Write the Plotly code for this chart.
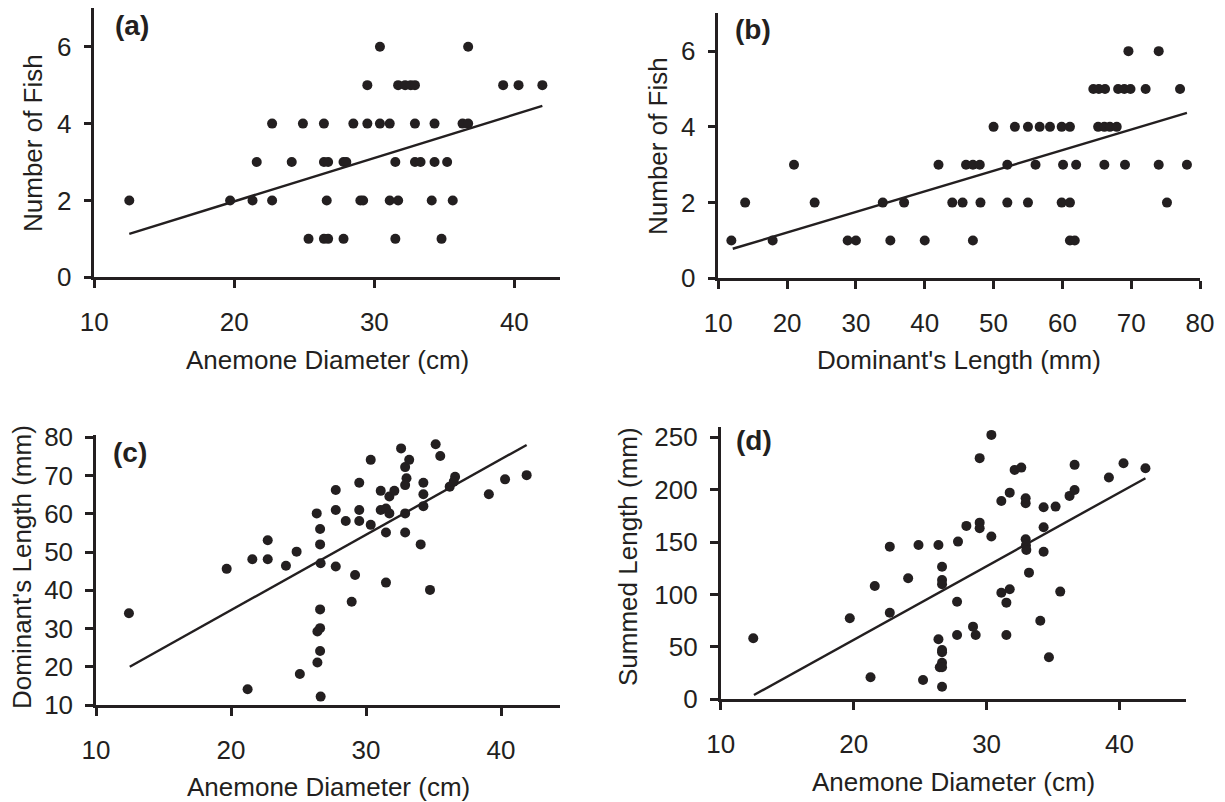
import plotly.graph_objects as go

# ---------------- data ----------------
# (a) Number of fish vs anemone diameter
a_x = [30.4, 36.7,
       29.5, 31.7, 32.2, 32.6, 32.9, 39.2, 40.3, 42.0,
       22.7, 24.9, 26.4, 28.5, 29.5, 30.4, 31.1, 32.9, 34.3, 36.3, 36.7,
       21.6, 24.1, 26.4, 26.7, 27.8, 28.0, 31.5, 32.9, 33.3, 34.3, 35.2,
       12.5, 19.7, 21.3, 22.7, 26.6, 29.0, 29.2, 31.1, 31.7, 34.1, 35.6,
       25.3, 26.4, 26.7, 27.8, 31.5, 34.8]
a_y = [6, 6,
       5, 5, 5, 5, 5, 5, 5, 5,
       4, 4, 4, 4, 4, 4, 4, 4, 4, 4, 4,
       3, 3, 3, 3, 3, 3, 3, 3, 3, 3, 3,
       2, 2, 2, 2, 2, 2, 2, 2, 2, 2, 2,
       1, 1, 1, 1, 1, 1]
a_fit_x = [12.5, 42.0]
a_fit_y = [1.13, 4.46]

# (b) Number of fish vs dominant's length
b_x = [69.6, 74.0,
       64.5, 65.3, 66.2, 68.1, 69.0, 69.9, 72.1, 77.1,
       50.0, 53.1, 55.0, 56.7, 58.2, 59.9, 61.1, 65.2, 66.1, 66.9, 67.9,
       21.0, 42.0, 46.0, 47.0, 48.0, 52.0, 56.1, 60.1, 62.0, 66.1, 69.1, 74.0, 78.1,
       13.9, 24.0, 33.9, 37.0, 44.0, 45.5, 48.1, 52.0, 55.0, 59.9, 61.1, 75.2,
       11.9, 17.9, 28.8, 30.0, 35.0, 40.0, 47.0, 61.1, 61.8]
b_y = [6, 6,
       5, 5, 5, 5, 5, 5, 5, 5,
       4, 4, 4, 4, 4, 4, 4, 4, 4, 4, 4,
       3, 3, 3, 3, 3, 3, 3, 3, 3, 3, 3, 3, 3,
       2, 2, 2, 2, 2, 2, 2, 2, 2, 2, 2, 2,
       1, 1, 1, 1, 1, 1, 1, 1, 1]
b_fit_x = [12.1, 78.1]
b_fit_y = [0.78, 4.37]

# (c) Dominant's length vs anemone diameter
c_x = [12.44, 19.68, 21.58, 22.72, 22.72, 24.07, 24.86, 21.23, 25.1,
       26.35, 26.6, 26.6, 26.64, 27.76, 27.76, 27.76, 26.6, 26.6, 26.4, 26.6, 26.4, 26.64,
       28.5, 28.94, 29.19, 29.5, 29.5, 29.5, 30.35, 30.35, 31.09, 31.09, 31.48, 31.73, 31.73,
       32.1, 31.48, 31.48, 32.6, 32.9, 33.0, 32.9, 33.2, 32.9, 32.9, 34.05, 34.25, 34.25,
       34.25, 34.74, 35.16, 35.5, 36.2, 36.6, 36.5, 39.1, 40.3, 41.9]
c_y = [34.0, 45.6, 48.1, 53.1, 48.1, 46.4, 50.1, 14.1, 18.1,
       60.1, 56.0, 52.0, 47.05, 66.2, 61.0, 46.2, 35.0, 30.1, 29.2, 24.1, 21.1, 12.2,
       58.1, 37.0, 44.0, 68.1, 61.0, 58.1, 74.1, 57.1, 66.0, 61.0, 61.4, 64.5, 60.1,
       66.0, 55.1, 42.0, 77.1, 72.2, 69.3, 67.5, 74.1, 60.1, 55.1, 52.0, 68.1, 65.1,
       62.0, 40.1, 78.2, 75.1, 67.1, 69.7, 68.4, 65.1, 69.0, 70.1]
c_fit_x = [12.5, 41.9]
c_fit_y = [20.0, 78.0]

# (d) Summed length vs anemone diameter
d_x = [12.45, 19.71, 21.59, 22.72, 22.72, 21.27, 24.1, 24.88, 26.38, 27.85,
       26.65, 26.65, 26.65, 27.78, 27.78, 26.38, 26.65, 26.65, 26.65, 26.48, 26.65,
       25.22, 26.65, 28.48, 28.98, 29.18, 29.48, 29.48, 29.48, 30.36, 30.36, 31.11,
       31.11, 31.49, 31.49, 31.74, 31.74, 32.11, 32.61, 32.94, 32.94, 32.94, 32.96,
       32.99, 33.19, 34.04, 34.29, 34.29, 34.29, 34.69, 35.19, 35.54, 36.24, 36.62,
       36.62, 39.2, 40.3, 41.95]
d_y = [58.2, 77.3, 108.1, 145.6, 82.6, 21.0, 115.4, 147.2, 147.2, 150.4,
       126.5, 113.8, 109.7, 93.1, 61.4, 57.3, 47.0, 44.8, 34.9, 30.5, 30.5,
       18.4, 12.0, 165.4, 69.3, 61.4, 230.0, 168.5, 163.2, 252.2, 155.2, 189.2,
       101.7, 92.2, 61.4, 197.1, 105.0, 218.8, 221.0, 191.8, 187.0, 152.7, 147.0,
       142.5, 120.8, 75.0, 183.2, 164.1, 140.8, 40.1, 183.8, 102.7, 194.0, 199.7,
       223.6, 211.5, 225.2, 220.4]
d_fit_x = [12.5, 41.95]
d_fit_y = [4.1, 210.9]

# ---------------- layout helpers ----------------
W, H = 1225, 802
INK = "#231f20"
FONT = "Liberation Sans, Arial, Helvetica, sans-serif"


def px(x):
    return x / W


def py(y):
    return 1 - y / H


fig = go.Figure()

panels = [
    # name, xs, ys, fitx, fity, xdom(px), ydom(px top,bottom), xrange, yrange, xticks, yticks
    ("1", a_x, a_y, a_fit_x, a_fit_y, (94.3, 560), (8.3, 277.3), [10, 43.26], [0, 7],
     [10, 20, 30, 40], [0, 2, 4, 6]),
    ("2", b_x, b_y, b_fit_x, b_fit_y, (718.3, 1200), (13.3, 278.3), [10, 80], [0, 7],
     [10, 20, 30, 40, 50, 60, 70, 80], [0, 2, 4, 6]),
    ("3", c_x, c_y, c_fit_x, c_fit_y, (96, 560), (435, 705), [10, 44.37], [10, 80.6],
     [10, 20, 30, 40], [10, 20, 30, 40, 50, 60, 70, 80]),
    ("4", d_x, d_y, d_fit_x, d_fit_y, (720.7, 1186), (426.7, 699.3), [10, 45], [0, 260],
     [10, 20, 30, 40], [0, 50, 100, 150, 200, 250]),
]

layout_axes = {}
for name, xs, ys, fx, fy, xd, yd, xr, yr, xt, yt in panels:
    xa = "x" if name == "1" else "x" + name
    ya = "y" if name == "1" else "y" + name
    fig.add_trace(go.Scatter(x=xs, y=ys, mode="markers", xaxis=xa, yaxis=ya,
                             marker=dict(size=10, color=INK), showlegend=False,
                             cliponaxis=False))
    fig.add_trace(go.Scatter(x=fx, y=fy, mode="lines", xaxis=xa, yaxis=ya,
                             line=dict(color=INK, width=2.4), showlegend=False))
    common = dict(showgrid=False, zeroline=False, showline=True, linecolor=INK,
                  linewidth=2.5, ticks="outside", ticklen=8, tickwidth=2.5,
                  tickcolor=INK, tickfont=dict(family=FONT, size=26, color=INK),
                  fixedrange=True, automargin=False)
    xkey = "xaxis" if name == "1" else "xaxis" + name
    ykey = "yaxis" if name == "1" else "yaxis" + name
    layout_axes[xkey] = dict(common, domain=[px(xd[0]), px(xd[1])], range=xr,
                             tickvals=xt, anchor=ya, ticklabelstandoff=12)
    layout_axes[ykey] = dict(common, domain=[py(yd[1]), py(yd[0])], range=yr,
                             tickvals=yt, anchor=xa, ticklabelstandoff=7)

fig.update_layout(**layout_axes)

annotations = []
# axis titles (pixel centres)
titles = [
    ("Anemone Diameter (cm)", 327, 360, 0),
    ("Dominant's Length (mm)", 959, 360, 0),
    ("Anemone Diameter (cm)", 328, 787, 0),
    ("Anemone Diameter (cm)", 953, 782, 0),
    ("Number of Fish", 33, 143, -90),
    ("Number of Fish", 658, 146, -90),
    ("Dominant's Length (mm)", 22, 567, -90),
    ("Summed Length (mm)", 628, 557, -90),
]
for text, cx, cy, ang in titles:
    annotations.append(dict(text=text, x=px(cx), y=py(cy), xref="paper", yref="paper",
                            xanchor="center", yanchor="middle", showarrow=False,
                            textangle=ang, font=dict(family=FONT, size=26, color=INK)))
# panel letters
letters = [("(a)", 131.5, 25), ("(b)", 753, 29), ("(c)", 130, 453), ("(d)", 754, 440)]
for text, cx, cy in letters:
    annotations.append(dict(text="<b>" + text + "</b>", x=px(cx), y=py(cy), xref="paper",
                            yref="paper", xanchor="center", yanchor="middle",
                            showarrow=False, font=dict(family=FONT, size=28, color=INK)))

fig.update_layout(width=W, height=H, margin=dict(l=0, r=0, t=0, b=0, autoexpand=False),
                  paper_bgcolor="white", plot_bgcolor="white",
                  annotations=annotations, showlegend=False)

fig.write_html(
    "out.html",
    config={"displayModeBar": False},
    post_script=("document.documentElement.style.margin='0';"
                 "document.body.style.margin='0';document.body.style.padding='0';"
                 "document.body.style.overflow='hidden';"),
)
